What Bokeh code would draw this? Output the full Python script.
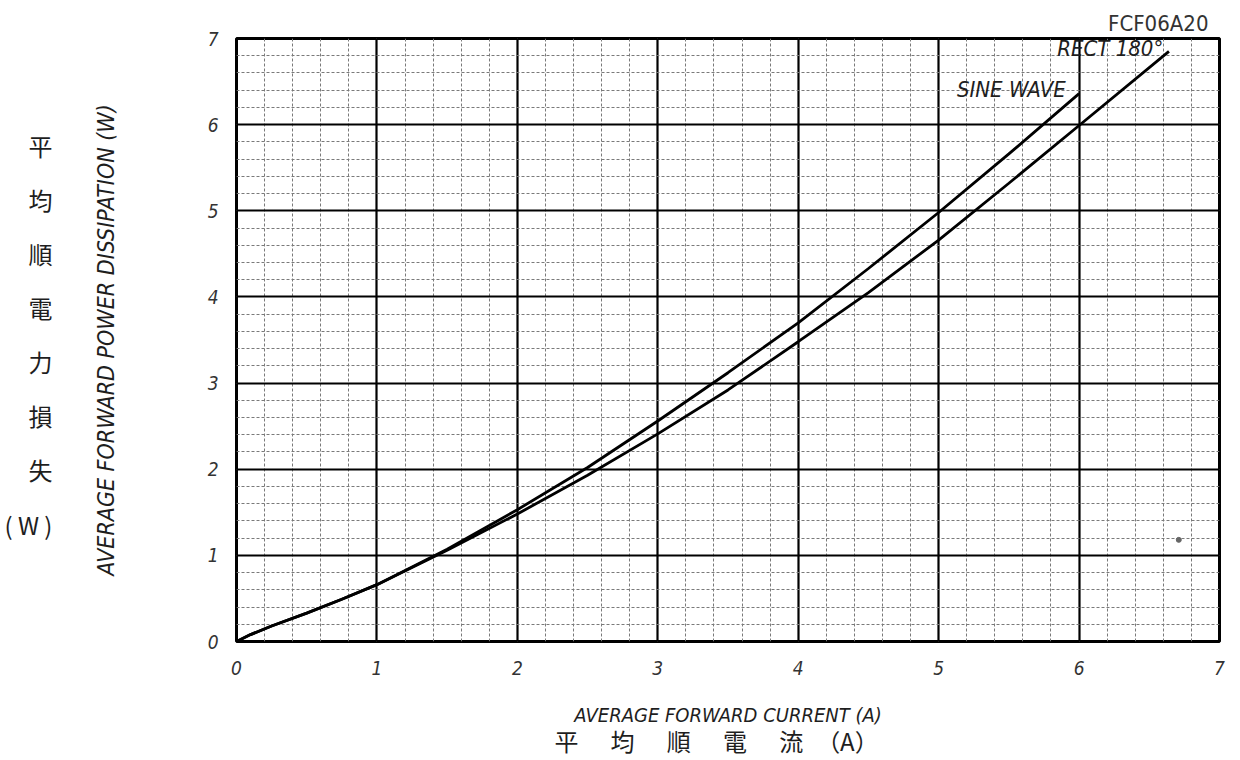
from bokeh.plotting import figure
from bokeh.models import Range1d, Label, SingleIntervalTicker, FixedTicker, LinearAxis
from bokeh.embed import file_html
from bokeh.resources import INLINE

# ---- data ----
sine_x = [0.0, 0.1, 0.25, 0.5, 0.75, 1.0, 1.5, 2.0, 2.5, 3.0, 3.5, 4.0, 4.5, 5.0, 5.5, 6.0]
sine_y = [0.0, 0.08, 0.18, 0.33, 0.49, 0.66, 1.07, 1.53, 2.02, 2.56, 3.12, 3.70, 4.33, 4.98, 5.66, 6.36]

rect_x = [0.0, 0.1, 0.25, 0.5, 0.75, 1.0, 1.5, 2.0, 2.5, 3.0, 3.5, 4.0, 4.5, 5.0, 5.5, 6.0, 6.64]
rect_y = [0.0, 0.08, 0.18, 0.33, 0.49, 0.66, 1.06, 1.48, 1.93, 2.41, 2.92, 3.48, 4.05, 4.66, 5.32, 5.99, 6.85]

speck_x = [6.71]
speck_y = [1.18]

x_ticks = [0, 1, 2, 3, 4, 5, 6, 7]
y_ticks = [0, 1, 2, 3, 4, 5, 6, 7]

x_title_en = "AVERAGE FORWARD CURRENT (A)"
y_title_en = "AVERAGE FORWARD POWER DISSIPATION (W)"
x_title_jp = ["平", "均", "順", "電", "流", "（A）"]
y_title_jp = ["平", "均", "順", "電", "力", "損", "失", "( W )"]
part_no = "FCF06A20"
sine_label = "SINE WAVE"
rect_label = "RECT 180°"

FONT = "'Liberation Sans Narrow', 'DejaVu Sans Condensed', 'DejaVu Sans', sans-serif"
CJK = "'Noto Sans CJK JP', 'Noto Sans CJK SC', sans-serif"
INK = "#1e1e1e"

p = figure(width=1240, height=760, title=part_no,
           x_range=Range1d(0, 7), y_range=Range1d(0, 7),
           output_backend="svg", toolbar_location=None,
           min_border_left=236, min_border_right=21,
           min_border_top=38, min_border_bottom=117)

# Helper ranges used only to space the Japanese title characters
p.extra_x_ranges = {"jp_x": Range1d(-5.87, 11.62)}
p.extra_y_ranges = {"jp_y": Range1d(9.17, -1.97)}

p.title.align = "right"
p.title.offset = 11
p.title.text_font = FONT
p.title.text_font_style = "normal"
p.title.text_font_size = "22px"
p.title.text_color = "#333333"
p.title.standoff = 6

p.background_fill_color = "white"
p.border_fill_color = "white"
p.outline_line_color = "black"
p.outline_line_width = 3

for ax in (p.xaxis[0], p.yaxis[0]):
    ax.ticker = SingleIntervalTicker(interval=1, num_minor_ticks=5)
    ax.axis_line_color = None
    ax.major_tick_line_color = None
    ax.minor_tick_line_color = None
    ax.major_label_text_font = FONT
    ax.major_label_text_font_style = "italic"
    ax.major_label_text_font_size = "19px"
    ax.major_label_text_color = "#333333"
    ax.axis_label_text_font = FONT
    ax.axis_label_text_font_style = "italic"
    ax.axis_label_text_color = INK

p.xaxis[0].major_label_overrides = {t: str(t) for t in x_ticks}
p.yaxis[0].major_label_overrides = {t: str(t) for t in y_ticks}
p.xaxis[0].major_label_standoff = 13
p.yaxis[0].major_label_standoff = 12
p.xaxis[0].axis_label = x_title_en
p.yaxis[0].axis_label = y_title_en
p.xaxis[0].axis_label_text_font_size = "20px"
p.yaxis[0].axis_label_text_font_size = "23px"
p.xaxis[0].axis_label_standoff = 25
p.yaxis[0].axis_label_standoff = 86

# Japanese titles as extra (tick-label-only) axes
jp_x_axis = LinearAxis(x_range_name="jp_x",
                       ticker=FixedTicker(ticks=list(range(len(x_title_jp)))),
                       major_label_overrides={i: c for i, c in enumerate(x_title_jp)})
jp_y_axis = LinearAxis(y_range_name="jp_y",
                       ticker=FixedTicker(ticks=list(range(len(y_title_jp)))),
                       major_label_overrides={i: c for i, c in enumerate(y_title_jp)})
for ax in (jp_x_axis, jp_y_axis):
    ax.axis_line_color = None
    ax.major_tick_line_color = None
    ax.minor_tick_line_color = None
    ax.major_label_text_font = CJK
    ax.major_label_text_font_size = "24px"
    ax.major_label_text_color = INK
jp_x_axis.major_label_standoff = -13
jp_y_axis.major_label_standoff = 31
p.add_layout(jp_x_axis, "below")
p.add_layout(jp_y_axis, "left")

for g in (p.xgrid[0], p.ygrid[0]):
    g.grid_line_color = "black"
    g.grid_line_width = 2.2
    g.minor_grid_line_color = "#7a7a7a"
    g.minor_grid_line_width = 1
    g.minor_grid_line_dash = "3 2"

p.line(sine_x, sine_y, line_color="black", line_width=2.8)
p.line(rect_x, rect_y, line_color="black", line_width=2.8)
p.scatter(speck_x, speck_y, size=5, color="#666666")

# in-plot curve labels
p.add_layout(Label(x=5.13, y=6.41, text=sine_label, text_font=FONT,
                   text_font_style="italic", text_font_size="22px",
                   text_color=INK, text_baseline="middle", text_align="left"))
p.add_layout(Label(x=6.6, y=6.88, text=rect_label, text_font=FONT,
                   text_font_style="italic", text_font_size="22px",
                   text_color=INK, text_baseline="middle", text_align="right"))

open("out.html", "w").write(file_html(p, INLINE))
